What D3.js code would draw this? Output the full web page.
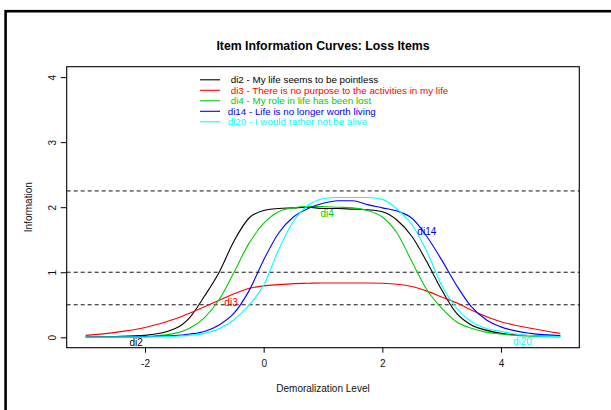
<!DOCTYPE html>
<html>
<head>
<meta charset="utf-8">
<script src="https://cdn.jsdelivr.net/npm/d3@7"></script>
<style>
  body { margin: 0; background: #fff; }
  svg { display: block; font-family: "Liberation Sans", Arial, sans-serif; }
</style>
</head>
<body>
<div class="chart"></div>
<script>
// theta grid shared by every curve
const theta = [-3, -2.5, -2, -1.5, -1.25, -1, -0.75, -0.5, -0.25, 0, 0.25, 0.5, 0.75, 1,
  1.25, 1.5, 1.75, 2, 2.25, 2.5, 2.75, 3, 3.25, 3.5, 3.75, 4, 4.5, 5];

const di2 = [0.005, 0.012, 0.03, 0.13, 0.3, 0.63, 1.0, 1.48, 1.83, 1.95, 1.98, 1.99, 2.0, 1.98,
  1.98, 1.97, 1.96, 1.93, 1.8, 1.55, 1.16, 0.73, 0.37, 0.19, 0.11, 0.06, 0.025, 0.015];
const di3 = [0.03, 0.075, 0.15, 0.28, 0.37, 0.47, 0.57, 0.67, 0.75, 0.79, 0.81, 0.825, 0.83, 0.835,
  0.835, 0.835, 0.835, 0.83, 0.815, 0.78, 0.71, 0.62, 0.53, 0.42, 0.32, 0.24, 0.14, 0.06];
const di4 = [0.002, 0.005, 0.012, 0.06, 0.14, 0.3, 0.58, 1.0, 1.44, 1.75, 1.93, 1.99, 2.01, 2.01,
  2.0, 1.99, 1.95, 1.85, 1.6, 1.16, 0.73, 0.45, 0.24, 0.14, 0.08, 0.05, 0.015, 0.005];
const di14 = [0.001, 0.003, 0.008, 0.025, 0.05, 0.09, 0.19, 0.37, 0.71, 1.19, 1.6, 1.85, 1.98, 2.06,
  2.1, 2.1, 2.04, 1.99, 1.94, 1.83, 1.55, 1.19, 0.8, 0.47, 0.27, 0.16, 0.06, 0.025];
const di20 = [0.0, 0.002, 0.005, 0.015, 0.03, 0.06, 0.13, 0.27, 0.49, 0.8, 1.34, 1.78, 2.03, 2.13,
  2.15, 2.15, 2.15, 2.12, 1.97, 1.73, 1.32, 0.8, 0.45, 0.24, 0.14, 0.09, 0.025, 0.01];

const itemNames = ['di2', 'di3', 'di4', 'di14', 'di20'];
const itemTexts = [
  'di2 - My life seems to be pointless',
  'di3 - There is no purpose to the activities in my life',
  'di4 - My role in life has been lost',
  'di14 - Life is no longer worth living',
  'di20 - I would rather not be alive',
];
const itemColors = ['#000000', '#ff0000', '#00cd00', '#0000ff', '#00ffff'];
const itemValues = [di2, di3, di4, di14, di20];

// where each curve's name sits, in data units
const labelTheta = [-2.15, -0.55, 1.07, 2.75, 4.36];
const labelInfo = [-0.08, 0.53, 1.9, 1.63, -0.06];

const refLines = [2.25, 1, 0.5];
const xTicks = [-2, 0, 2, 4];
const yTicks = [0, 1, 2, 3, 4];

const title = 'Item Information Curves: Loss Items';
const xTitle = 'Demoralization Level';
const yTitle = 'Information';

const W = 611;
const H = 410;
const plot = {left: 66.7, right: 579.3, top: 66.7, bottom: 347.7};

const appendFrame = (svg) => {
  svg.append('rect')
    .attr('x', 5.6).attr('y', 11.2)
    .attr('width', 800).attr('height', 600)
    .attr('fill', 'none')
    .attr('stroke', '#000')
    .attr('stroke-width', 2.6);
};

const appendAxes = (svg, x, y) => {
  const xAxis = d3.axisBottom(x).tickValues(xTicks).tickSize(5).tickPadding(7)
    .tickFormat((d) => (d < 0 ? '-' + Math.abs(d) : d));
  const yAxis = d3.axisLeft(y).tickValues(yTicks).tickSize(6).tickPadding(9)
    .tickFormat(d3.format('d'));

  const gx = svg.append('g')
    .attr('class', 'x-axis')
    .attr('transform', `translate(0,${plot.bottom})`)
    .call(xAxis);
  gx.select('.domain').remove();
  gx.selectAll('text').style('font-size', '10px').attr('fill', '#111');

  const gy = svg.append('g')
    .attr('class', 'y-axis')
    .attr('transform', `translate(${plot.left},0)`)
    .call(yAxis);
  gy.select('.domain').remove();
  gy.selectAll('text')
    .style('font-size', '10px')
    .attr('fill', '#111')
    .attr('text-anchor', 'middle')
    .attr('x', null)
    .attr('transform', 'translate(-14,0) rotate(-90)')
    .attr('dy', '0.35em');

  svg.append('rect')
    .attr('x', plot.left).attr('y', plot.top)
    .attr('width', plot.right - plot.left)
    .attr('height', plot.bottom - plot.top)
    .attr('fill', 'none')
    .attr('stroke', '#000')
    .attr('stroke-width', 1.1);

  svg.append('text')
    .attr('x', (plot.left + plot.right) / 2)
    .attr('y', 392)
    .attr('text-anchor', 'middle')
    .style('font-size', '10px')
    .attr('fill', '#111')
    .text(xTitle);

  svg.append('text')
    .attr('transform', `translate(31.5,${(plot.top + plot.bottom) / 2}) rotate(-90)`)
    .attr('text-anchor', 'middle')
    .style('font-size', '10px')
    .attr('fill', '#111')
    .text(yTitle);

  svg.append('text')
    .attr('x', (plot.left + plot.right) / 2)
    .attr('y', 50)
    .attr('text-anchor', 'middle')
    .style('font-size', '12.3px')
    .style('font-weight', 'bold')
    .text(title);
};

const appendCurves = (svg, x, y) => {
  const dashed = svg.append('g').attr('class', 'ref-lines');
  dashed.selectAll('line')
    .data(refLines)
    .enter().append('line')
    .attr('x1', plot.left)
    .attr('x2', plot.right)
    .attr('y1', (d) => y(d))
    .attr('y2', (d) => y(d))
    .attr('stroke', '#111')
    .attr('stroke-dasharray', '4,3');

  const line = d3.line()
    .x((d) => x(d[0]))
    .y((d) => y(d[1]))
    .curve(d3.curveMonotoneX);

  svg.append('g').attr('class', 'curves')
    .selectAll('path')
    .data(itemValues)
    .enter().append('path')
    .attr('d', (vals) => line(vals.map((v, i) => [theta[i], v])))
    .attr('fill', 'none')
    .attr('stroke', (d, i) => itemColors[i])
    .attr('stroke-width', 1.1);

  svg.append('g').attr('class', 'curve-labels')
    .selectAll('text')
    .data(itemNames)
    .enter().append('text')
    .attr('x', (d, i) => x(labelTheta[i]))
    .attr('y', (d, i) => y(labelInfo[i]))
    .attr('dy', '0.35em')
    .attr('text-anchor', 'middle')
    .style('font-size', '10px')
    .attr('fill', (d, i) => itemColors[i])
    .text((d) => d);
};

const appendLegend = (svg) => {
  const rowY = (i) => 79.8 + i * 10.5;
  const g = svg.append('g').attr('class', 'legend');
  const rows = g.selectAll('g')
    .data(itemTexts)
    .enter().append('g');

  rows.append('line')
    .attr('x1', 200).attr('x2', 220)
    .attr('y1', (d, i) => rowY(i))
    .attr('y2', (d, i) => rowY(i))
    .attr('stroke', (d, i) => itemColors[i])
    .attr('stroke-width', 1.1);

  rows.append('text')
    .attr('x', (d, i) => (itemNames[i].length > 3 ? 227.7 : 230.7))
    .attr('y', (d, i) => rowY(i))
    .attr('dy', '0.35em')
    .style('font-size', '9.8px')
    .attr('fill', (d, i) => itemColors[i])
    .text((d) => d);
};

const getChart = () => {
  const svg = d3.select('.chart').append('svg')
    .attr('width', W)
    .attr('height', H);

  const x = d3.scaleLinear().domain([-3.32, 5.32]).range([plot.left, plot.right]);
  const y = d3.scaleLinear().domain([-0.16, 4.16]).range([plot.bottom, plot.top]);

  appendFrame(svg);
  appendCurves(svg, x, y);
  appendAxes(svg, x, y);
  appendLegend(svg);
};

getChart();
</script>
</body>
</html>
